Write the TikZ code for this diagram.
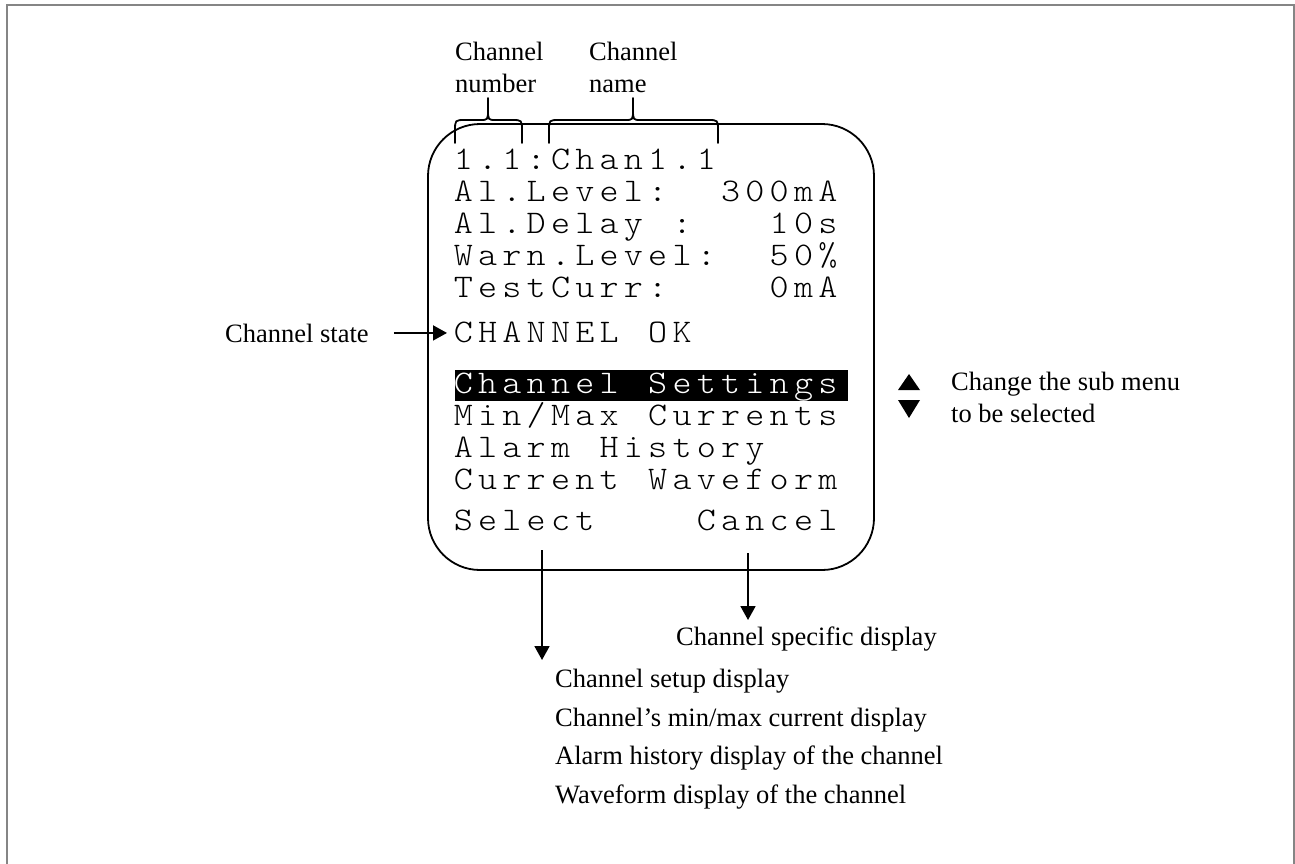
\documentclass[tikz,border=0pt]{standalone}
\usepackage{fontspec}
\setmainfont{Liberation Serif}
\newfontfamily\lcdfont{lmmonolt10-regular.otf}
\usetikzlibrary{arrows.meta}

% fixed-pitch LCD text: every character sits centred in its own cell
\newcommand\lcdrow[1]{\lcdcell#1\relax}
\newcommand\lcdcell[1]{\ifx#1\relax\else\makebox[24.3pt][c]{\scalebox{1.1}[1]{#1}}\expandafter\lcdcell\fi}

% curly brace opening downwards: left x, tip x, right x
\newcommand\capbrace[3]{%
  \draw[bracepen] (#1,143) -- (#1,131) .. controls (#1,120) .. (#1+10,120)
    -- (#2-8,120) .. controls (#2,120) .. (#2,109) -- (#2,98)
    -- (#2,109) .. controls (#2,120) .. (#2+8,120)
    -- (#3-10,120) .. controls (#3,120) .. (#3,131) -- (#3,143);}

\tikzset{
  lbl/.style={font=\fontsize{26.5}{32}\selectfont, inner sep=0pt, anchor=base west},
  lcd/.style={font=\lcdfont\fontsize{33}{33}\selectfont, inner sep=0pt, anchor=base west},
  conn/.style={line width=1.8pt, -{Triangle[length=14pt,width=15pt]}},
  bracepen/.style={line width=1.8pt, line join=round, line cap=round},
  screenbox/.style={draw, line width=1.8pt, rounded corners=52pt, inner sep=0pt,
    minimum width=446pt, minimum height=446pt},
  framepen/.style={draw=black!48, line width=2.2pt},
}

\begin{document}
\begin{tikzpicture}[x=1pt,y=-1pt]
  \useasboundingbox (0,0) rectangle (1295,863);
  \fill[white] (0,0) rectangle (1295,863);
  \draw[framepen] (7,5) rectangle (1294,880);

  % display outline
  \node[screenbox] (screen) at (651,347) {};

  % labels above the display
  \node[lbl] (numA) at (455,60) {Channel};
  \node[lbl] (numB) at (455,92) {number};
  \node[lbl] (namA) at (589,60) {Channel};
  \node[lbl] (namB) at (589,92) {name};
  \capbrace{455}{488}{522}
  \capbrace{549}{633}{718}

  % display contents
  \node[lcd] (l1) at (451,169) {\lcdrow{1.1:Chan1.1}};
  \node[lcd] (l2) at (451,201) {\lcdrow{Al.Level:~~300mA}};
  \node[lcd] (l3) at (451,233) {\lcdrow{Al.Delay~:~~~10s}};
  \node[lcd] (l4) at (451,265) {\lcdrow{Warn.Level:~~50\%}};
  \node[lcd] (l5) at (451,297) {\lcdrow{TestCurr:~~~~0mA}};
  \node[lcd] (ok) at (451,342) {\lcdrow{CHANNEL~OK}};

  \fill (455,370) rectangle (848,401);
  \node[lcd, text=white] (m1) at (451,393) {\lcdrow{Channel~Settings}};
  \node[lcd] (m2) at (451,425) {\lcdrow{Min/Max~Currents}};
  \node[lcd] (m3) at (451,457) {\lcdrow{Alarm~History}};
  \node[lcd] (m4) at (451,489) {\lcdrow{Current~Waveform}};
  \node[lcd] (sel) at (451,530) {\lcdrow{Select}};
  \node[lcd] (can) at (694,530) {\lcdrow{Cancel}};

  % channel state pointer
  \node[lbl] (state) at (225,342) {Channel state};
  \draw[conn] (state.east) ++(25,0) coordinate (s0) -- ([xshift=-4pt]s0 -| ok.west);

  % up / down keys
  \fill (898,390) -- (920,390) -- (909,374) -- cycle;
  \fill (898,400) -- (920,400) -- (909,418) -- cycle;
  \node[lbl] (keyA) at (951,390) {Change the sub menu};
  \node[lbl] (keyB) at (951,422) {to be selected};

  % targets of the soft keys
  \node[lbl] (spec) at (676,645) {Channel specific display};
  \node[lbl] (d1) at (555,687) {Channel setup display};
  \node[lbl] (d2) at (555,726) {Channel’s min/max current display};
  \node[lbl] (d3) at (555,764) {Alarm history display of the channel};
  \node[lbl] (d4) at (555,803) {Waveform display of the channel};

  \coordinate (selFrom) at (542,550);
  \coordinate (selTo) at (542,660);
  \coordinate (canFrom) at (748,553);
  \coordinate (canTo) at (748,620);
  \draw[conn] (selFrom) -- (selTo);
  \draw[conn] (canFrom) -- (canTo);
\end{tikzpicture}
\end{document}
